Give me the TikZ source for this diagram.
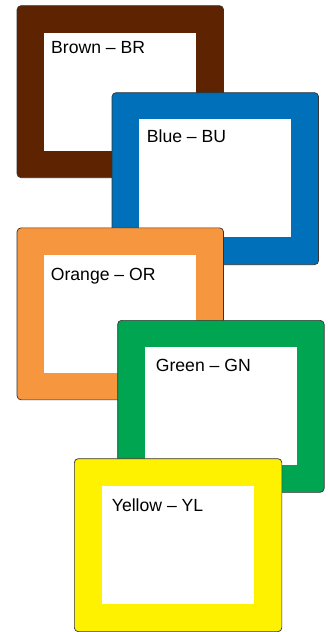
\documentclass[tikz,border=0pt]{standalone}
\usepackage{fontspec}
\setmainfont{Liberation Sans}
\definecolor{cbrown}{RGB}{94,35,0}
\definecolor{cblue}{RGB}{0,112,186}
\definecolor{corange}{RGB}{246,150,62}
\definecolor{cgreen}{RGB}{0,165,81}
\definecolor{cyellow}{RGB}{255,242,0}
\tikzset{
  frame/.style={draw=black!80, line width=0.7pt, rounded corners=4pt, anchor=north west,
    minimum width=206.5pt, minimum height=172pt, inner sep=0pt},
  hole/.style={fill=white, anchor=north west, minimum width=152pt, minimum height=118pt, inner sep=0pt},
  lab/.style={anchor=base west, inner sep=0pt, font=\fontsize{17.6}{20}\selectfont}
}
\begin{document}
\begin{tikzpicture}[x=1pt,y=-1pt]
\useasboundingbox (0,0) rectangle (328,632);
% Brown
\node[frame, fill=cbrown] (br) at (16.7,5.3) {};
\node[hole] (brin) at (44,33) {};
\node[lab] (brt) at (51,53.3) {Brown – BR};
% Blue
\node[frame, fill=cblue] (bu) at (111.7,92.3) {};
\node[hole] (buin) at (139,119) {};
\node[lab] (but) at (146.7,142.7) {Blue – BU};
% Orange
\node[frame, fill=corange] (or) at (16.7,227.5) {};
\node[hole] (orin) at (44,254.7) {};
\node[lab] (ort) at (50.7,280) {Orange – OR};
% Green
\node[frame, fill=cgreen] (gn) at (117.3,320) {};
\node[hole] (gnin) at (145,346.7) {};
\node[lab] (gnt) at (155.7,371.7) {Green – GN};
% Yellow
\node[frame, fill=cyellow, minimum width=207.5pt, minimum height=173pt] (yl) at (74,458.3) {};
\node[hole] (ylin) at (101.7,485.7) {};
\node[lab] (ylt) at (111.7,511) {Yellow – YL};
\end{tikzpicture}
\end{document}
